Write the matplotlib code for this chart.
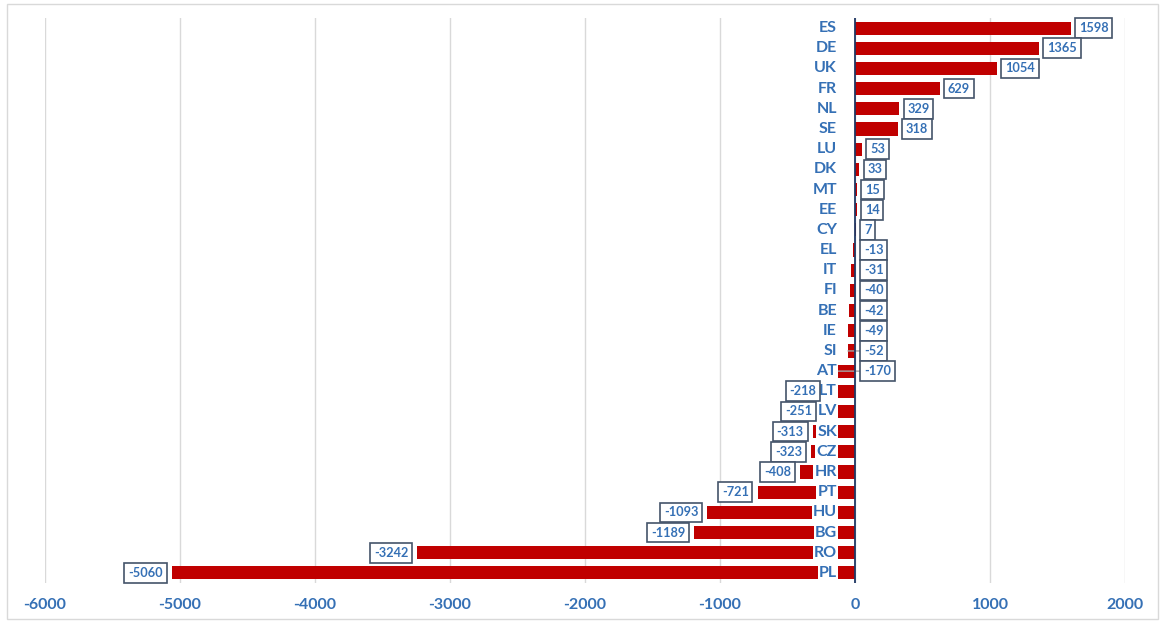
import matplotlib
matplotlib.use('Agg')
import matplotlib.pyplot as plt
from matplotlib.patches import Rectangle
from matplotlib.transforms import offset_copy

countries = ['ES', 'DE', 'UK', 'FR', 'NL', 'SE', 'LU', 'DK', 'MT', 'EE', 'CY', 'EL', 'IT', 'FI',
             'BE', 'IE', 'SI', 'AT', 'LT', 'LV', 'SK', 'CZ', 'HR', 'PT', 'HU', 'BG', 'RO', 'PL']
values = [1598, 1365, 1054, 629, 329, 318, 53, 33, 15, 14, 7, -13, -31, -40,
          -42, -49, -52, -170, -218, -251, -313, -323, -408, -721, -1093, -1189, -3242, -5060]
xticks = [-6000, -5000, -4000, -3000, -2000, -1000, 0, 1000, 2000]

BLUE = '#3570B5'
RED = '#C00000'
BOXEDGE = '#44546A'

plt.rcParams['font.family'] = ['Lato', 'DejaVu Sans']

W, H = 1160, 624
fig = plt.figure(figsize=(W / 100, H / 100), dpi=100)
fig.patches.append(Rectangle((7 / W, 1 - 619 / H), 1151 / W, 615 / H, transform=fig.transFigure,
                             fill=False, edgecolor='#D9D9D9', lw=1))

ax = fig.add_axes([45 / W, 1 - 583 / H, 1080 / W, 565 / H])
ypos = list(range(len(countries)))
ax.barh(ypos, values, height=0.65, color=RED, zorder=2)
ax.set_ylim(len(countries) - 0.5, -0.5)
ax.set_xlim(xticks[0], xticks[-1])
ax.set_xticks(xticks)
ax.set_xticklabels([str(t) for t in xticks])
ax.grid(axis='x', color='#D9D9D9', lw=1, zorder=0)
ax.set_yticks([])
for s in ax.spines.values():
    s.set_visible(False)
ax.tick_params(axis='x', length=0, pad=11, labelsize=11.5, labelcolor=BLUE)
for lbl in ax.get_xticklabels():
    lbl.set_fontweight('bold')
ax.axvline(0, color='#1F3864', lw=1.3, zorder=6)

for i, (c, v) in enumerate(zip(countries, values)):
    ax.annotate(c, xy=(0, i), xytext=(-18, 0), textcoords='offset pixels',
                ha='right', va='center', fontsize=11.5, fontweight='bold', color=BLUE,
                bbox=dict(boxstyle='square,pad=0.08', fc='white', ec='none'), zorder=5)
    box = dict(boxstyle='square,pad=0.3', fc='white', ec=BOXEDGE, lw=1.2)
    if v > 0:
        ax.annotate(str(v), xy=(v, i), xytext=(8, 0), textcoords='offset pixels',
                    ha='left', va='center', fontsize=9.2, fontweight='bold', color=BLUE,
                    bbox=box, zorder=7)
    elif v > -200:
        if v < -50:
            # leader line from bar end to the moved label
            end_tr = offset_copy(ax.transData, fig=fig, x=6, y=0, units='dots')
            ax.annotate('', xy=(v, i), xycoords='data', xytext=(0, i), textcoords=end_tr,
                        arrowprops=dict(arrowstyle='-', color='#A6A6A6', lw=1,
                                        shrinkA=0, shrinkB=0), zorder=4)
        ax.annotate(str(v), xy=(0, i), xytext=(9, 0), textcoords='offset pixels',
                    ha='left', va='center', fontsize=9.2, fontweight='bold', color=BLUE,
                    bbox=box, zorder=7)
    else:
        ax.annotate(str(v), xy=(v, i), xytext=(-9, 0), textcoords='offset pixels',
                    ha='right', va='center', fontsize=9.2, fontweight='bold', color=BLUE,
                    bbox=box, zorder=7)

fig.savefig('out.png', dpi=100)
